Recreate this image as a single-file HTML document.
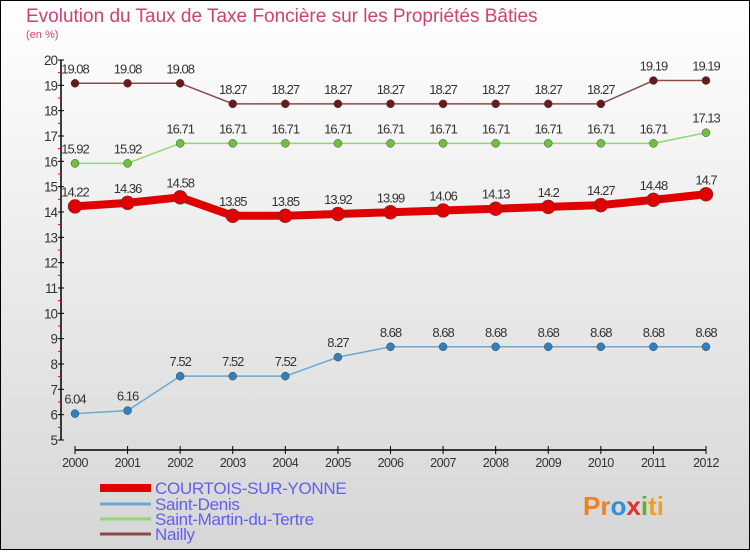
<!DOCTYPE html>
<html><head><meta charset="utf-8"><style>
html,body{margin:0;padding:0}
body{width:750px;height:550px;overflow:hidden;font-family:"Liberation Sans",sans-serif}
</style></head><body>
<svg width="750" height="550" xmlns="http://www.w3.org/2000/svg">
<defs><linearGradient id="bg" x1="0" y1="0" x2="0" y2="1"><stop offset="0" stop-color="#ffffff"/><stop offset="1" stop-color="#d6d6d6"/></linearGradient></defs>
<rect x="0.5" y="0.5" width="749" height="549" fill="url(#bg)" stroke="#000"/>
<text x="26" y="22" font-size="19" fill="#d04070">Evolution du Taux de Taxe Foncière sur les Propriétés Bâties</text>
<text x="26" y="38" font-size="11" fill="#d04070">(en %)</text>
<g id="axes"></g>
<g id="series"></g>
<g id="legend"></g>
<text x="583" y="515" font-size="26" font-weight="bold" fill="#f08020">Pr<tspan fill="#3090e0">o</tspan><tspan fill="#e03030">x</tspan><tspan fill="#60b030">i</tspan><tspan fill="#f0a020">ti</tspan></text>
</svg>
<script>
const years=[2000,2001,2002,2003,2004,2005,2006,2007,2008,2009,2010,2011,2012];
const courtois=[14.22,14.36,14.58,13.85,13.85,13.92,13.99,14.06,14.13,14.2,14.27,14.48,14.7];
const saintDenis=[6.04,6.16,7.52,7.52,7.52,8.27,8.68,8.68,8.68,8.68,8.68,8.68,8.68];
const saintMartin=[15.92,15.92,16.71,16.71,16.71,16.71,16.71,16.71,16.71,16.71,16.71,16.71,17.13];
const nailly=[19.08,19.08,19.08,18.27,18.27,18.27,18.27,18.27,18.27,18.27,18.27,19.19,19.19];
const yTicks=[5,6,7,8,9,10,11,12,13,14,15,16,17,18,19,20];
const legendNames=["COURTOIS-SUR-YONNE","Saint-Denis","Saint-Martin-du-Tertre","Nailly"];
const NS="http://www.w3.org/2000/svg";
const x=i=>75+i*(706-75)/(years.length-1);
const y=v=>440-(v-5)*(380/15);
function mk(tag,attrs,parent,txt){const e=document.createElementNS(NS,tag);for(const k in attrs)e.setAttribute(k,attrs[k]);if(txt!==undefined)e.textContent=txt;parent.appendChild(e);return e;}
const ax=document.getElementById('axes');
let e=mk('line',{x1:61,y1:60,x2:61,y2:440,stroke:'#000','stroke-width':1.5},ax);

yTicks.forEach(t=>{
 mk('line',{x1:58,x2:64,y1:y(t),y2:y(t),stroke:'#000'},ax);
 if(t<20) mk('line',{x1:58,x2:61,y1:y(t+0.5),y2:y(t+0.5),stroke:'#e00'},ax);
 const l=mk('text',{x:57,y:y(t)+5,'font-size':13.5,'text-anchor':'end',fill:'#333','letter-spacing':'-1'},ax,String(t));
 
});
e=mk('line',{x1:75,y1:450,x2:706,y2:450,stroke:'#000','stroke-width':1.5},ax);

years.forEach((yr,i)=>{
 mk('line',{x1:x(i),x2:x(i),y1:446,y2:454,stroke:'#000'},ax);
 const l=mk('text',{x:x(i),y:467,'font-size':12.5,'text-anchor':'middle',fill:'#333','letter-spacing':'-0.5'},ax,String(yr));
 
});
const sg=document.getElementById('series');
const defs=[
 {d:nailly,c:'#6a1a1a',lc:'#8a4a4a',w:1.5,r:4,name:'nailly'},
 {d:saintMartin,c:'#70c040',lc:'#90d870',w:1.5,r:4,name:'saint-martin'},
 {d:saintDenis,c:'#3080c0',lc:'#6aa8d0',w:1.5,r:4,name:'saint-denis'},
 {d:courtois,c:'#e00000',lc:'#e00000',w:8,r:7,name:'courtois'}
];
defs.forEach(s=>{
 const g=mk('g',{},sg);
 
 const p=mk('polyline',{points:s.d.map((v,i)=>x(i)+','+y(v)).join(' '),fill:'none',stroke:s.lc,'stroke-width':s.w,'stroke-linejoin':'round'},g);
 
 s.d.forEach((v,i)=>{
  const c=mk('circle',{cx:x(i),cy:y(v),r:s.r,fill:s.c,stroke:'#444','stroke-width':0.5},g);
  
  const t=mk('text',{x:x(i),y:y(v)-10,'font-size':13,'text-anchor':'middle',fill:'#333','letter-spacing':'-1'},g,String(v));
  
 });
});
const lg=document.getElementById('legend');
const lcols=['#e00000','#6aa8d0','#90d870','#8a4a4a'];const lw=[8,3,3,3];const ly=[492,508,523,538];
legendNames.forEach((n,i)=>{
 const g=mk('g',{},lg);
 
 mk('line',{x1:100,x2:151,y1:ly[i]-4,y2:ly[i]-4,stroke:lcols[i],'stroke-width':lw[i]},g);
 mk('text',{x:155,y:ly[i]+2,'font-size':17,fill:'#6060f0','letter-spacing':'-0.3'},g,n);
});
</script>
</body></html>
